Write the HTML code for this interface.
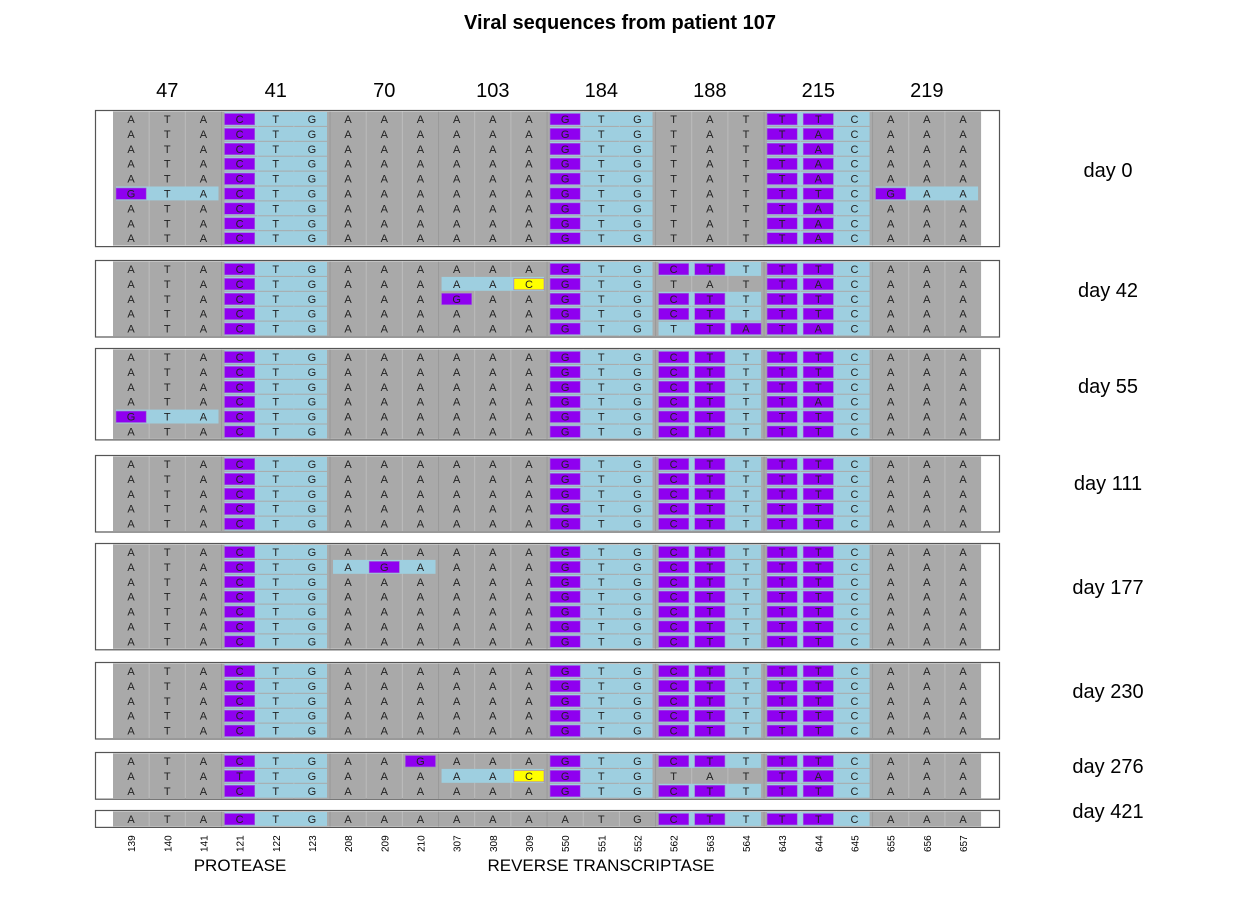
<!DOCTYPE html>
<html><head><meta charset="utf-8">
<style>
html,body{margin:0;padding:0;background:#fff;}
svg{display:block;font-family:"Liberation Sans",Arial,sans-serif;}
</style></head>
<body>
<svg id="chart" width="1240" height="910" viewBox="0 0 1240 910">
<text x="620" y="29" text-anchor="middle" font-size="20" font-weight="bold" fill="#000">Viral sequences from patient 107</text>
<text x="240" y="871" text-anchor="middle" font-size="17" fill="#000">PROTEASE</text>
<text x="601" y="871" text-anchor="middle" font-size="17" fill="#000">REVERSE TRANSCRIPTASE</text>
</svg>
<script>
const codonLabels = ["47","41","70","103","184","188","215","219"];
const positions = ["139","140","141","121","122","123","208","209","210","307","308","309","550","551","552","562","563","564","643","644","645","655","656","657"];
const reference = "ATAATGAAAAAAATGTATACCAAA";
const dayLabels = ["day 0","day 42","day 55","day 111","day 177","day 230","day 276","day 421"];
const D = ["ATACTGAAAAAAGTGCTTTTCAAA","gbggbbbg"];
const D0 = ["ATACTGAAAAAAGTGTATTACAAA","gbggbgbg"];
const day0 = [["ATACTGAAAAAAGTGTATTTCAAA","gbggbgbg"],D0,D0,D0,D0,["GTACTGAAAAAAGTGTATTTCGAA","bbggbgbb"],D0,D0,D0];
const day42 = [D,["ATACTGAAAAACGTGTATTACAAA","gbgbbgbg"],["ATACTGAAAGAAGTGCTTTTCAAA","gbggbbbg"],D,["ATACTGAAAAAAGTGTTATACAAA","gbggbbbg"]];
const day55 = [D,D,D,["ATACTGAAAAAAGTGCTTTACAAA","gbggbbbg"],["GTACTGAAAAAAGTGCTTTTCAAA","bbggbbbg"],D];
const day111 = [D,D,D,D,D];
const day177 = [D,["ATACTGAGAAAAGTGCTTTTCAAA","gbbgbbbg"],D,D,D,D,D];
const day230 = [D,D,D,D,D];
const day276 = [["ATACTGAAGAAAGTGCTTTTCAAA","gbggbbbg"],["ATATTGAAAAACGTGTATTACAAA","gbgbbgbg"],D];
const day421 = [["ATACTGAAAAAAATGCTTTTCAAA","gbgggbbg"]];
const panels = [day0,day42,day55,day111,day177,day230,day276,day421];
const panelTops = [110,260,348,455,543,662,752,810];
const dayLabelY = [177,297,393,490,594,698,773,818];

const NS="http://www.w3.org/2000/svg";
const svg=document.getElementById('chart');
const X0=113, CW=36.17, RH=14.9, BX=95, BW=905;
const colX=i=>X0+i*CW;
function mk(tag,attrs,parent){const e=document.createElementNS(NS,tag);for(const k in attrs)e.setAttribute(k,attrs[k]);(parent||svg).appendChild(e);return e;}

codonLabels.forEach((l,i)=>{
  const t=mk('text',{x:colX(i*3)+CW*1.5,y:97,'text-anchor':'middle','font-size':20,fill:'#000'});
  
  
  t.textContent=l;
});

panels.forEach((rows,p)=>{
  const g=mk('g',{});
  
  
  const top=panelTops[p], h=rows.length*RH+3;
  mk('rect',{x:BX,y:top,width:BW,height:h,fill:'#fff'},g);
  mk('rect',{x:X0,y:top+1.5,width:CW*24,height:rows.length*RH,fill:'#a9a9a9'},g);
  for(let i=1;i<24;i++){
    mk('line',{x1:colX(i),x2:colX(i),y1:top+1.5,y2:top+1.5+rows.length*RH,stroke:i%3==0?'#999':'#bcbcbc','stroke-width':1},g);
  }
  rows.forEach((r,ri)=>{
    const seq=r[0], bg=r[1], y=top+1.5+ri*RH;
    for(let c=0;c<8;c++){
      if(bg[c]==='b'){
        const b=mk('rect',{x:colX(c*3)+3,y:y+0.5,width:CW*3-6,height:RH-1,fill:'#9ecfe0'},g);
        
        
      }
    }
    for(let i=0;i<24;i++){
      const ch=seq[i];
      if(ch!==reference[i]){
        const col=(i===11)?'#ffff00':'#8f00f0';
        const m=mk('rect',{x:colX(i)+3,y:y+2,width:CW-6,height:RH-3.5,fill:col,stroke:'#a070d0','stroke-width':0.6},g);
        
        
      }
      const t=mk('text',{x:colX(i)+CW/2,y:y+RH/2+4,'text-anchor':'middle','font-size':11,fill:'#222'},g);
      
      
      t.textContent=ch;
    }
  });
  mk('rect',{x:BX+0.5,y:top+0.5,width:BW-1,height:h-1,fill:'none',stroke:'#555','stroke-width':1.2},g);
  const dl=mk('text',{x:1108,y:dayLabelY[p],'text-anchor':'middle','font-size':20,fill:'#000'});
  
  
  dl.textContent=dayLabels[p];
});

positions.forEach((pos,i)=>{
  const x=colX(i)+CW/2+4, y=852;
  const t=mk('text',{x:x,y:y,transform:`rotate(-90 ${x} ${y})`,'font-size':10,fill:'#000'});
  
  
  t.textContent=pos;
});
</script>
</body></html>
